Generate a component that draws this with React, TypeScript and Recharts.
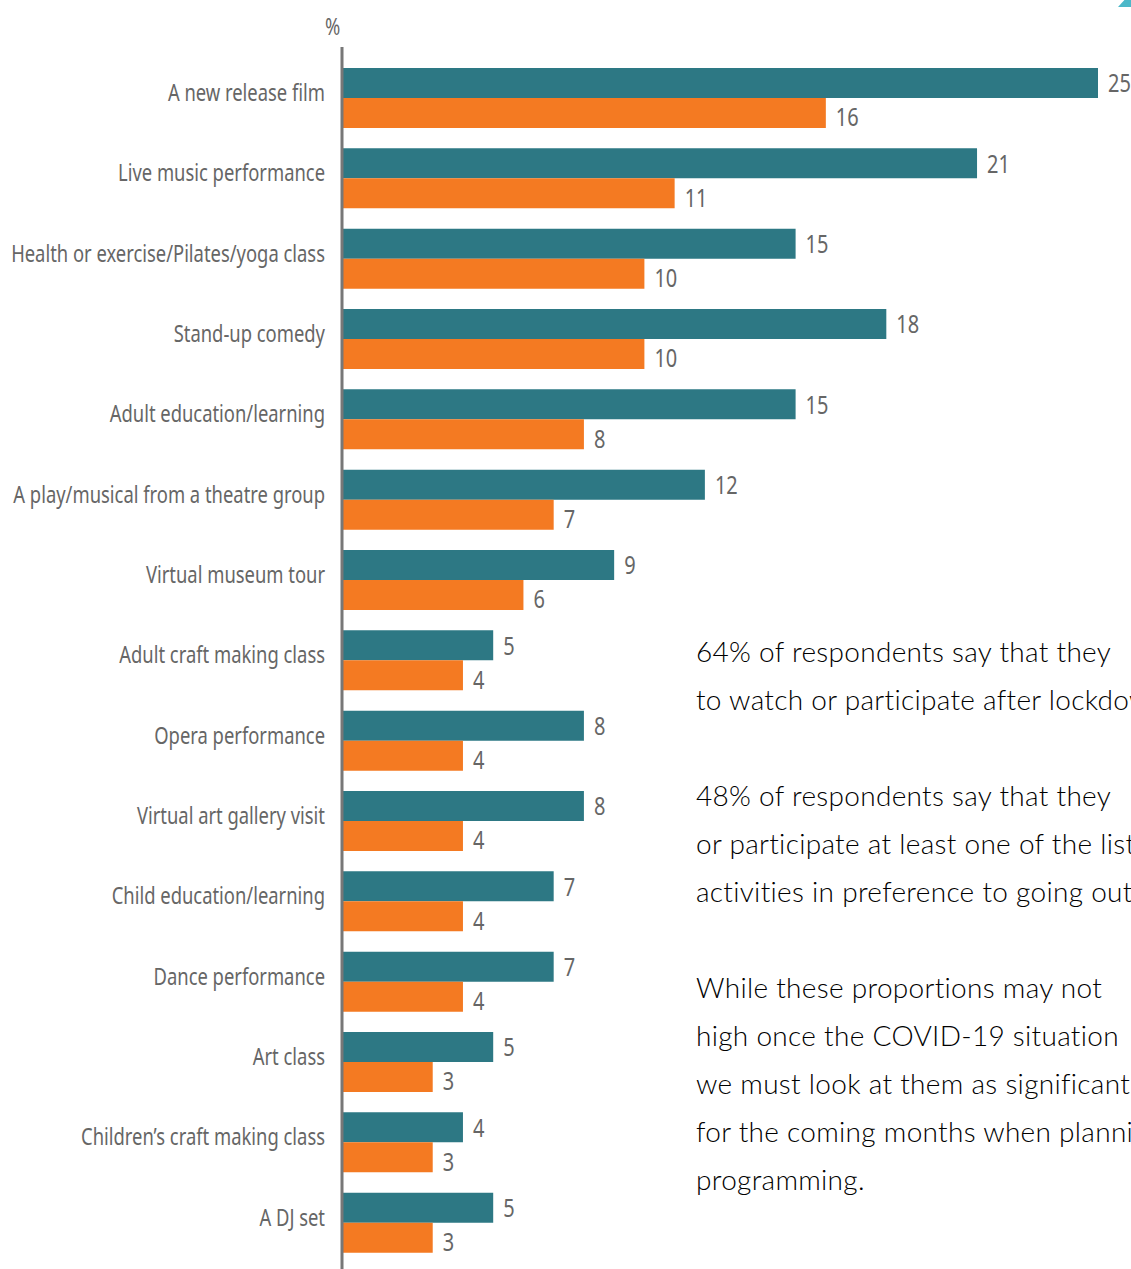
import React from 'react';
import { BarChart, Bar, XAxis, YAxis, LabelList } from 'recharts';

const categories = [
  'A new release film',
  'Live music performance',
  'Health or exercise/Pilates/yoga class',
  'Stand-up comedy',
  'Adult education/learning',
  'A play/musical from a theatre group',
  'Virtual museum tour',
  'Adult craft making class',
  'Opera performance',
  'Virtual art gallery visit',
  'Child education/learning',
  'Dance performance',
  'Art class',
  'Children’s craft making class',
  'A DJ set',
];
const tealValues = [25, 21, 15, 18, 15, 12, 9, 5, 8, 8, 7, 7, 5, 4, 5];
const orangeValues = [16, 11, 10, 10, 8, 7, 6, 4, 4, 4, 4, 4, 3, 3, 3];

const paragraphLines = [
  '64% of respondents say that they',
  'to watch or participate after lockdown',
  '',
  '48% of respondents say that they',
  'or participate at least one of the listed',
  'activities in preference to going out',
  '',
  'While these proportions may not',
  'high once the COVID-19 situation',
  'we must look at them as significant',
  'for the coming months when planning',
  'programming.',
];

const data = categories.map((name, i) => ({ name, teal: tealValues[i], orange: orangeValues[i] }));

const FONT = "'Noto Sans', 'DejaVu Sans', sans-serif";
const SQUEEZE = 0.8;
const TEAL = '#2d7884';
const ORANGE = '#f47a22';
const GREY = '#666';

// the source uses a condensed face; squeeze a regular one horizontally
const CatTick = (props: any) => {
  const { x, y, payload } = props;
  return (
    <g transform={`translate(${x - 9},${y - 6}) scale(${SQUEEZE},1)`}>
      <text x={0} y={0} textAnchor="end" dominantBaseline="central" fill={GREY} fontSize={23} fontFamily={FONT}>
        {payload.value}
      </text>
    </g>
  );
};

const makeValueLabel = (dy: number) => (props: any) => {
  const { x, y, width, height, value } = props;
  const lx = Number(x) + Number(width) + 10;
  const ly = Number(y) + Number(height) / 2 + dy;
  return (
    <g transform={`translate(${lx},${ly}) scale(${SQUEEZE},1)`}>
      <text x={0} y={0} textAnchor="start" dominantBaseline="central" fill={GREY} fontSize={25} fontFamily={FONT}>
        {value}
      </text>
    </g>
  );
};

const TealLabel = makeValueLabel(0);
const OrangeLabel = makeValueLabel(4);

export default function App() {
  return (
    <div
      style={{
        position: 'absolute',
        left: 0,
        top: 0,
        width: 1131,
        height: 1269,
        overflow: 'hidden',
        background: '#fff',
      }}
    >
      <BarChart
        width={1131}
        height={1269}
        data={data}
        layout="vertical"
        margin={{ top: 47, right: 33, bottom: 0, left: 0 }}
        barSize={30}
        barGap={0}
      >
        <XAxis type="number" domain={[0, 25]} hide />
        <YAxis
          type="category"
          dataKey="name"
          width={342}
          interval={0}
          axisLine={{ stroke: '#777', strokeWidth: 3 }}
          tickLine={false}
          tick={<CatTick />}
          padding={{ top: 11, bottom: 6 }}
        />
        <Bar dataKey="teal" fill={TEAL} isAnimationActive={false}>
          <LabelList dataKey="teal" content={TealLabel} />
        </Bar>
        <Bar dataKey="orange" fill={ORANGE} isAnimationActive={false}>
          <LabelList dataKey="orange" content={OrangeLabel} />
        </Bar>
      </BarChart>

      <div
        style={{
          position: 'absolute',
          left: 325,
          top: 10,
          fontSize: 23,
          color: GREY,
          fontFamily: FONT,
          transform: `scale(${SQUEEZE},1)`,
          transformOrigin: 'left top',
        }}
      >
        %
      </div>

      <div
        style={{
          position: 'absolute',
          left: 696,
          top: 627,
          fontSize: 28,
          lineHeight: '48px',
          letterSpacing: '0.3px',
          color: '#000',
          fontFamily: "Lato, 'Open Sans', sans-serif",
          fontWeight: 300,
          whiteSpace: 'pre',
        }}
      >
        {paragraphLines.map((line, i) => (
          <div key={i} style={{ height: 48 }}>{line}</div>
        ))}
      </div>

      <div
        style={{
          position: 'absolute',
          left: 1118,
          top: 0,
          width: 16,
          height: 7,
          background: '#4cb8c9',
          clipPath: 'polygon(40% 0, 100% 0, 100% 100%, 0 100%)',
        }}
      />
    </div>
  );
}
